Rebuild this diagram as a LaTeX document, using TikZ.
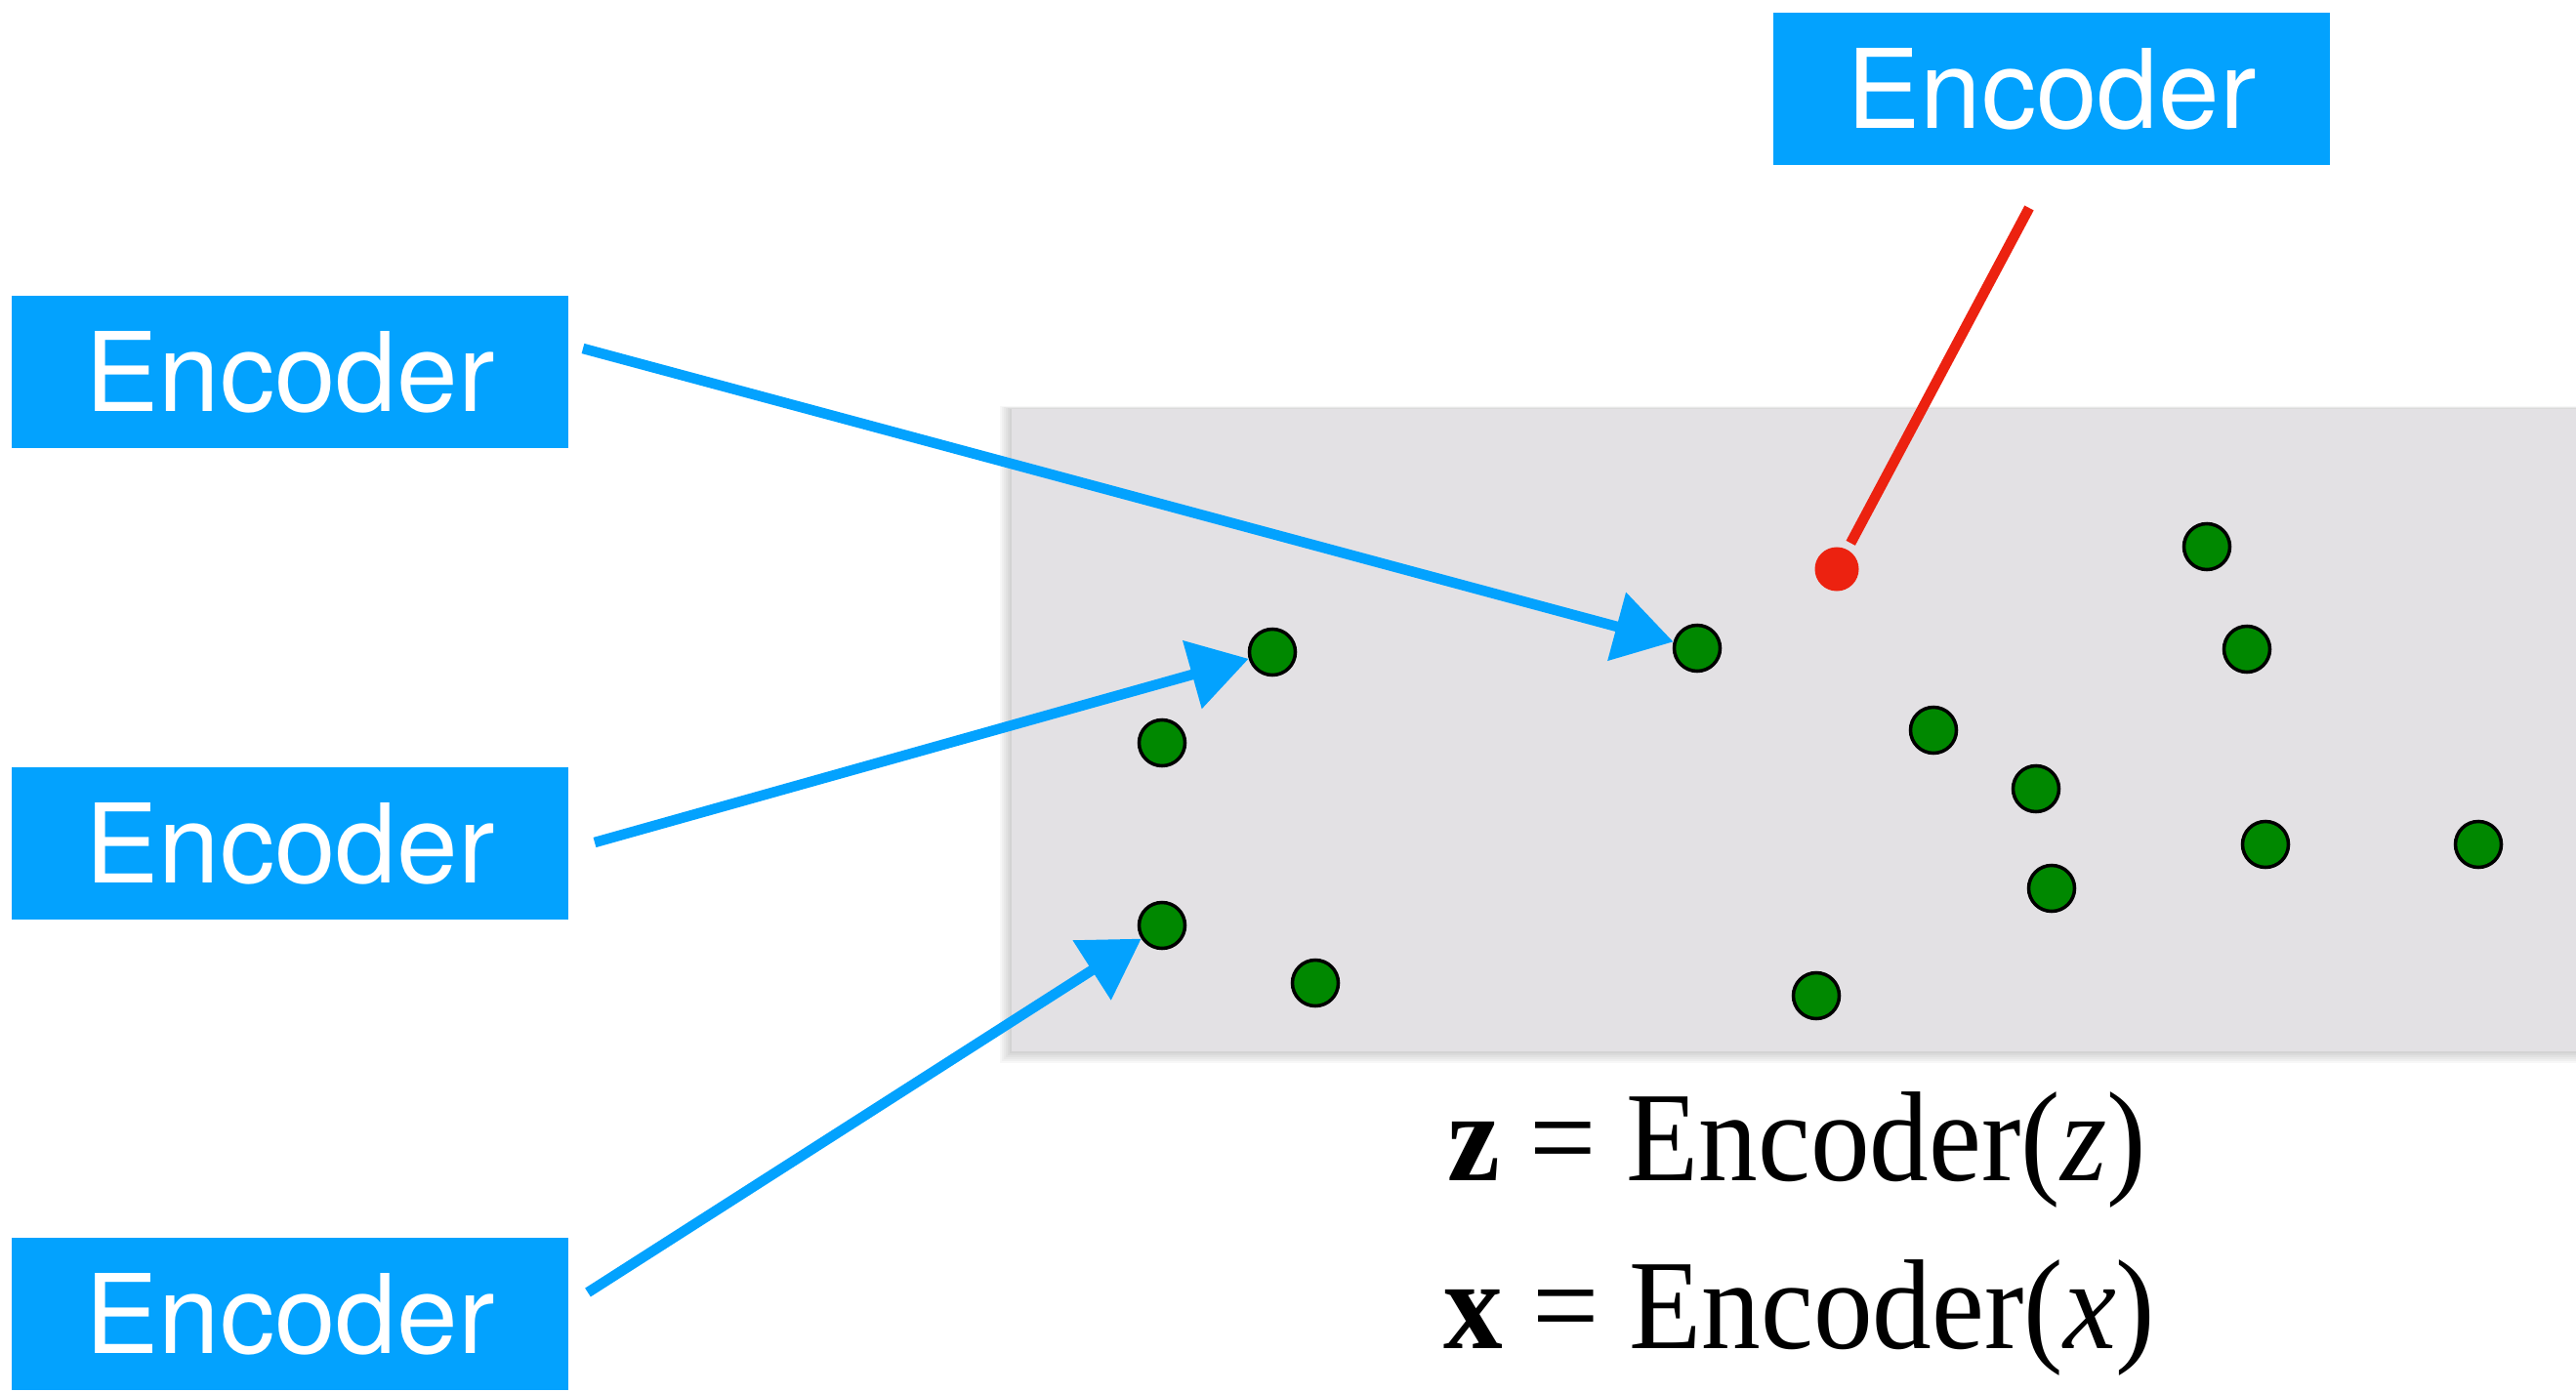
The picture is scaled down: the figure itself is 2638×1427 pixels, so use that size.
\documentclass[tikz,border=0pt]{standalone}
\usepackage{fontspec}
\setmainfont{Liberation Serif}
\newfontfamily\encfont{TeX Gyre Heros}
\usetikzlibrary{arrows.meta}
\definecolor{encblue}{RGB}{3,162,254}
\definecolor{spacegray}{RGB}{227,225,228}
\definecolor{dotgreen}{RGB}{0,136,0}
\definecolor{dotred}{RGB}{236,34,16}

\begin{document}
\begin{tikzpicture}[x=0.01cm, y=-0.01cm,
	encbox/.style={fill=encblue, text=white, minimum width=5.7cm, minimum height=1.56cm, inner sep=0pt, font=\encfont\fontsize{32}{38}\selectfont},
	pt/.style={circle, draw=black, line width=1pt, fill=dotgreen, minimum size=0.47cm, inner sep=0pt},
	query/.style={circle, fill=dotred, minimum size=0.45cm, inner sep=0pt},
	stroke/.style={draw=encblue, line width=3pt, -{Triangle[length=0.6cm, width=0.7cm]}},
	formula/.style={anchor=base west, inner sep=0pt, font=\fontsize{34.5}{40}\selectfont}]
	\useasboundingbox (0,0) rectangle (2638,1427);
	
	% 嵌入空间 (带阴影)
	\foreach \s in {1,...,6}
		\fill[black, opacity=0.03] ({1036-2*\s},{419-0.5*\s}) rectangle (2638,{1077+2*\s});
	\fill[spacegray] (1036,419) rectangle (2638,1077);
	
	% 编码器
	\node[encbox] (enc1) at (297,381) {Encoder};
	\node[encbox] (enc2) at (297,864) {Encoder};
	\node[encbox] (enc3) at (297,1346) {Encoder};
	\node[encbox] (encq) at (2101,91) {Encoder};
	
	% 样本点
	\foreach \name/\px/\py in {x1/1303/668, x2/1190/761, x3/1190/948, x4/1347/1007,
		x5/1738/664, x6/2260/560, x7/2301/665, x8/1980/748, x9/2085/808,
		x10/2101/910, x11/2320/865, x12/2538/865, x13/1860/1020}
		\node[pt] (\name) at (\px,\py) {};
	\node[query] (q) at (1881,583) {};
	
	% 笔刷箭头
	\coordinate (s1) at (597,357);
	\coordinate (s2) at (609,863);
	\coordinate (s3) at (602,1324);
	\coordinate (sq) at (2078,213);
	\draw[stroke] (s1) -- (x5);
	\draw[stroke] (s2) -- (x1);
	\draw[stroke] (s3) -- (x3);
	\draw[draw=dotred, line width=3pt, shorten >=2pt] (sq) -- (q);
	
	% 公式
	\node[formula] (zeq) at (1482,1209) {\scalebox{1}[1.08]{{\bfseries z} = Encoder(\textit{z})}};
	\node[formula] (xeq) at (1478,1381) {\scalebox{1}[1.08]{{\bfseries x} = Encoder(\textit{x})}};
\end{tikzpicture}
\end{document}
